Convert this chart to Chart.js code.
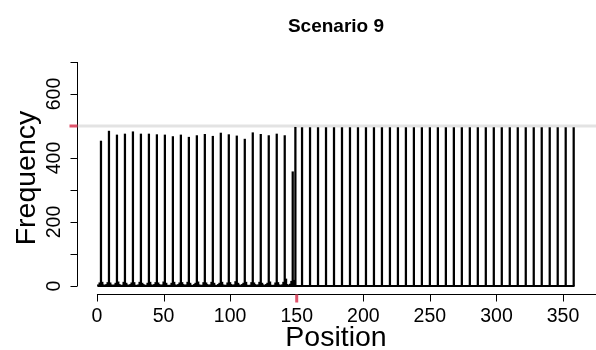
<!DOCTYPE html>
<html>
<head>
<meta charset="utf-8">
<script src="https://cdn.jsdelivr.net/npm/chart.js@4"></script>
<style>
  html, body { margin: 0; padding: 0; background: #ffffff; }
  #wrap { width: 596px; height: 350px; }
</style>
</head>
<body>
<div id="wrap"><canvas id="c" width="596" height="350"></canvas></div>
<script>
// ---- Data ----
const title = "Scenario 9";
const xTitle = "Position";
const yTitle = "Frequency";
const xTicks = [0, 50, 100, 150, 200, 250, 300, 350];
const yTicks = [0, 100, 200, 300, 400, 500, 600, 700];
const yTickLabels = [0, 200, 400, 600];
const referenceLine = 500;
const markX = 150;
const markY = 500;

// Frequencies at positions 1..150 (rows of six positions)
const freqPre150 = [
  4, 10, 453, 12, 4, 2,
  5, 11, 484, 10, 4, 1,
  4, 9, 472, 13, 5, 2,
  3, 12, 475, 9, 4, 2,
  5, 10, 482, 11, 3, 1,
  4, 12, 475, 9, 5, 2,
  3, 9, 475, 12, 4, 1,
  5, 11, 473, 10, 5, 2,
  4, 13, 472, 9, 3, 2,
  3, 9, 467, 12, 4, 1,
  5, 10, 472, 11, 5, 2,
  4, 12, 465, 9, 3, 2,
  5, 9, 470, 13, 4, 1,
  3, 11, 474, 10, 5, 2,
  4, 12, 468, 9, 3, 2,
  5, 9, 478, 12, 4, 1,
  3, 10, 473, 11, 5, 2,
  4, 14, 469, 9, 4, 2,
  5, 9, 459, 12, 3, 1,
  3, 11, 479, 10, 5, 2,
  4, 12, 474, 9, 4, 2,
  5, 9, 470, 13, 3, 1,
  3, 10, 475, 11, 4, 2,
  4, 12, 470, 22, 5, 2,
  6, 15, 357, 18, 496, 0
];

// Spikes after position 150
const postPositions = [154, 160, 166, 172, 178, 184, 190, 196, 202, 208, 214, 220,
  226, 232, 238, 244, 250, 256, 262, 268, 274, 280, 286, 292, 298, 304, 310, 316,
  322, 328, 334, 340, 346, 352, 358];
const postFreq = [495, 495, 495, 495, 495, 495, 495, 495, 495, 495, 495, 495,
  495, 495, 495, 495, 495, 495, 495, 495, 495, 495, 495, 495, 495, 495, 495, 495,
  495, 495, 495, 495, 495, 495, 495];
const firstPosition = 1;
const lastPosition = 358;

// ---- Build points ----
const spikePoints = [];
freqPre150.forEach((v, i) => spikePoints.push({ x: i + 1, y: v }));
postPositions.forEach((p, i) => spikePoints.push({ x: p, y: postFreq[i] }));

const RED = '#DF536B';
const FONT = '"Liberation Sans", Arial, Helvetica, sans-serif';

const axesPlugin = {
  id: 'rAxes',
  beforeDatasetsDraw(chart) {
    const ctx = chart.ctx;
    const ys = chart.scales.y;
    const a = chart.chartArea;
    ctx.save();
    ctx.strokeStyle = '#e3e3e3';
    ctx.lineWidth = 3;
    const yy = ys.getPixelForValue(referenceLine);
    ctx.beginPath();
    ctx.moveTo(a.left, yy);
    ctx.lineTo(a.right + 2, yy);
    ctx.stroke();
    ctx.restore();
  },
  afterDraw(chart) {
    const ctx = chart.ctx;
    const xs = chart.scales.x, ys = chart.scales.y;
    const a = chart.chartArea;
    ctx.save();
    ctx.strokeStyle = '#000';
    ctx.lineWidth = 1;
    const yb = a.bottom + 0.5;
    ctx.beginPath();
    ctx.moveTo(xs.getPixelForValue(xTicks[0]), yb);
    ctx.lineTo(596, yb);
    ctx.stroke();
    xTicks.forEach(t => {
      const px = Math.round(xs.getPixelForValue(t)) + 0.5;
      ctx.beginPath();
      ctx.moveTo(px, yb);
      ctx.lineTo(px, yb + 7);
      ctx.stroke();
    });
    const xl = a.left + 0.5;
    ctx.beginPath();
    ctx.moveTo(xl, ys.getPixelForValue(yTicks[0]));
    ctx.lineTo(xl, ys.getPixelForValue(yTicks[yTicks.length - 1]));
    ctx.stroke();
    yTicks.forEach(t => {
      const py = Math.round(ys.getPixelForValue(t)) + 0.5;
      ctx.beginPath();
      ctx.moveTo(xl, py);
      ctx.lineTo(xl - 7, py);
      ctx.stroke();
    });
    ctx.strokeStyle = RED;
    ctx.lineWidth = 3;
    const rx = xs.getPixelForValue(markX);
    ctx.beginPath();
    ctx.moveTo(rx, yb);
    ctx.lineTo(rx, yb + 8);
    ctx.stroke();
    const ry = ys.getPixelForValue(markY);
    ctx.beginPath();
    ctx.moveTo(xl, ry);
    ctx.lineTo(xl - 8, ry);
    ctx.stroke();

    ctx.fillStyle = '#000';
    ctx.font = '19.5px ' + FONT;
    ctx.textAlign = 'center';
    ctx.textBaseline = 'alphabetic';
    xTicks.forEach(t => {
      ctx.fillText(String(t), xs.getPixelForValue(t), 322);
    });
    yTickLabels.forEach(t => {
      ctx.save();
      ctx.translate(60, ys.getPixelForValue(t));
      ctx.rotate(-Math.PI / 2);
      ctx.fillText(String(t), 0, 0);
      ctx.restore();
    });
    ctx.font = '28.5px ' + FONT;
    ctx.fillText(xTitle, (a.left + a.right) / 2, 346);
    ctx.save();
    ctx.translate(35, (a.top + a.bottom) / 2);
    ctx.rotate(-Math.PI / 2);
    ctx.fillText(yTitle, 0, 0);
    ctx.restore();
    ctx.font = 'bold 19px ' + FONT;
    ctx.fillText(title, (a.left + a.right) / 2, 32);
    ctx.restore();
  }
};

new Chart(document.getElementById('c'), {
  data: {
    datasets: [
      {
        type: 'bar',
        data: spikePoints,
        backgroundColor: '#000',
        borderWidth: 0,
        barThickness: 1.6,
        grouped: false,
        order: 2
      },
      {
        type: 'line',
        data: [{ x: firstPosition, y: 0 }, { x: lastPosition, y: 0 }],
        borderColor: '#000',
        borderWidth: 2,
        borderCapStyle: 'round',
        pointRadius: 0,
        order: 1
      }
    ]
  },
  options: {
    responsive: false,
    devicePixelRatio: 1,
    animation: false,
    layout: { padding: { left: 77, right: 1, top: 62, bottom: 56 } },
    plugins: { legend: { display: false }, tooltip: { enabled: false }, title: { display: false } },
    scales: {
      x: { type: 'linear', min: -15, max: 374, display: false, offset: false },
      y: { type: 'linear', min: -25, max: 700, display: false }
    }
  },
  plugins: [axesPlugin]
});
</script>
</body>
</html>
